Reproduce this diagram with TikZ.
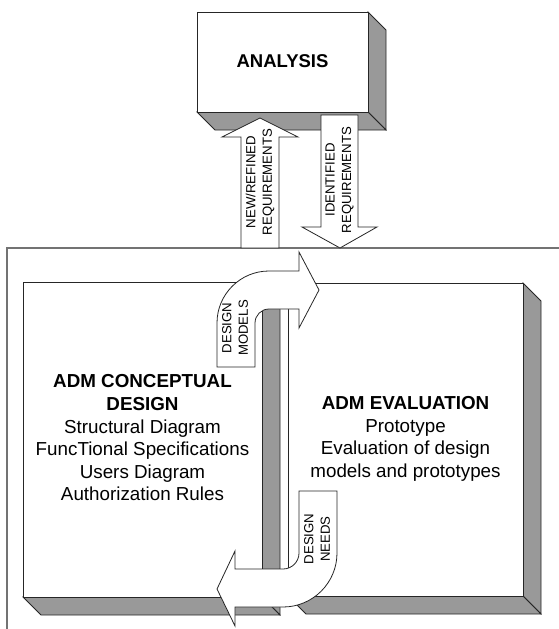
\documentclass[tikz,border=0pt]{standalone}
\usepackage{fontspec}
\setmainfont{Liberation Sans}
\begin{document}
\begin{tikzpicture}[x=1pt,y=-1pt,
  edge/.style={draw=black!85, line width=0.8pt, line join=miter},
  front/.style={edge, fill=white},
  shade/.style={edge, fill=black!40},
  blockarrow/.style={edge, fill=white},
  frameline/.style={draw=black!55, line width=1.3pt},
  big/.style={font=\fontsize{18.8}{22.6}\selectfont, align=center, inner sep=0pt},
  lbl/.style={font=\fontsize{13.2}{16.5}\selectfont, align=center, rotate=90, inner sep=0pt}]
\useasboundingbox (0,0) rectangle (559,629);

% open frame around the design stage
\draw[frameline] (559,248) -- (7,248) -- (7,629);

% ANALYSIS block
\draw[shade] (368,12) -- (386,30) -- (386,130) -- (368,112) -- cycle;
\draw[shade] (197,112) -- (368,112) -- (386,130) -- (215,130) -- cycle;
\draw[front] (197,12) rectangle (368,112);
\node[big, font=\fontsize{18.5}{22.6}\selectfont\bfseries] (analysis) at (282.5,61) {ANALYSIS};

% requirement arrows between analysis and design
\draw[blockarrow] (241,248) -- (241,137) -- (222,137) -- (260,118) -- (298,137)
  -- (279,137) -- (279,248) -- cycle;
\node[lbl] (newreq) at (260,182) {NEW/REFINED\\REQUIREMENTS};
\draw[blockarrow] (321,115) -- (358,115) -- (358,227) -- (377,227) -- (340,248)
  -- (302,227) -- (321,227) -- cycle;
\node[lbl] (idreq) at (339.5,180) {IDENTIFIED\\REQUIREMENTS};

% ADM CONCEPTUAL DESIGN block
\draw[shade] (262,282) -- (280,300) -- (280,615) -- (262,597) -- cycle;
\draw[shade] (23,597) -- (262,597) -- (280,615) -- (41,615) -- cycle;
\draw[front] (23,282) rectangle (262,597);
\node[big] (concept) at (142.5,438) {\textbf{ADM CONCEPTUAL}\\\textbf{DESIGN}\\Structural Diagram\\FuncTional Specifications\\Users Diagram\\Authorization Rules};

% ADM EVALUATION block
\draw[shade] (523,283) -- (541,301) -- (541,614) -- (523,596) -- cycle;
\draw[shade] (288,596) -- (523,596) -- (541,614) -- (306,614) -- cycle;
\draw[front] (288,283) rectangle (523,596);
\node[big] (evaluation) at (405.5,439) {\textbf{ADM EVALUATION}\\Prototype\\Evaluation of design\\models and prototypes};

% curved arrow: design models (y axis points down, so angles run clockwise on the page)
\draw[blockarrow] (217,367) -- (217,323) arc[start angle=180, end angle=270, radius=52]
  -- (299,271) -- (299,252) -- (319,290) -- (299,328) -- (299,309) -- (269,309)
  arc[start angle=270, end angle=180, radius=14] -- (255,367) -- cycle;
\node[lbl] (models) at (235,328) {DESIGN\\MODELS};

% curved arrow: design needs
\draw[blockarrow] (299,491) -- (337,491) -- (337,553) arc[start angle=0, end angle=90, radius=54]
  -- (235,607) -- (235,626) -- (217,589) -- (235,551) -- (235,569) -- (283,569)
  arc[start angle=90, end angle=0, radius=16] -- cycle;
\node[lbl] (needs) at (317,539) {DESIGN\\NEEDS};
\end{tikzpicture}
\end{document}
